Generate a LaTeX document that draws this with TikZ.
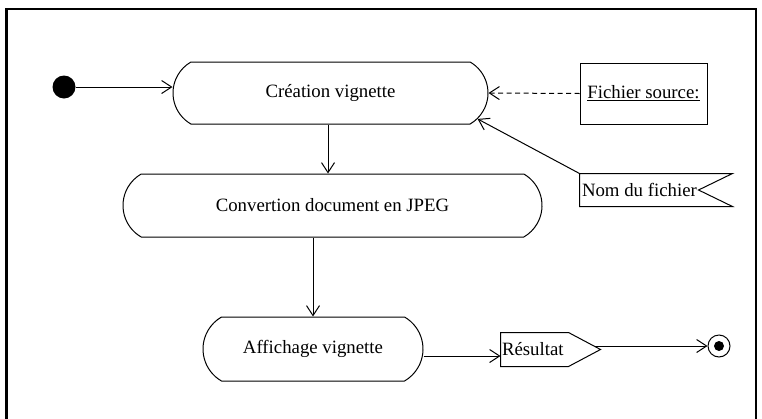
\documentclass[tikz,border=0pt]{standalone}
\usepackage{fontspec}
\setmainfont{Liberation Serif}
\usetikzlibrary{arrows.meta,shapes.misc}
\begin{document}
\begin{tikzpicture}[x=1pt,y=-1pt,
  font=\fontsize{18.8}{22}\selectfont,
  line width=1pt,
  arr/.style={-{Straight Barb[length=10pt,width=13pt]}},
  act/.style={rounded rectangle, rounded rectangle arc length=120, draw, inner sep=0pt},
  plain/.style={inner sep=2pt, align=left, anchor=west},
]
\useasboundingbox (0,0) rectangle (762,418);
\draw[line width=2.5pt] (6.5,425) -- (6.5,9) -- (756,9) -- (756,425);

% activities
\node[act, minimum width=315pt, minimum height=62pt] (cre) at (330.5,93) {Création vignette};
\node[act, minimum width=419pt, minimum height=63pt] (conv) at (332.5,205.5) {Convertion document en JPEG};
\node[act, minimum width=220pt, minimum height=64pt] (aff) at (313,349) {Affichage vignette};

% start / end
\node[circle, fill=black, minimum size=23pt, inner sep=0pt] (ini) at (64,87) {};
\node[circle, draw, minimum size=22pt, inner sep=0pt] (fin) at (719,346) {};
\node[circle, fill=black, minimum size=10pt, inner sep=0pt] (findot) at (fin.center) {};

% objects
\node[draw, minimum width=127pt, minimum height=61pt, inner sep=0pt] (fs) at (643.5,93.5) {\underline{Fichier source:}};
\node[minimum width=152pt, minimum height=32pt, inner sep=0pt] (nom) at (656,190) {};
\node[plain] (nomtxt) at (nom.west) {Nom du fichier};
\draw (nom.north west) -- (nom.north east) -- ([xshift=-34pt]nom.east) -- (nom.south east) -- (nom.south west) -- cycle;
\node[minimum width=99pt, minimum height=33pt, inner sep=0pt] (res) at (550.5,349.5) {};
\node[plain, inner sep=1pt] (restxt) at (res.west) {Résultat};
\draw (res.north west) -- ([xshift=-32pt]res.north east) -- (res.east) -- ([xshift=-32pt]res.south east) -- (res.south west) -- cycle;

% connectors
\draw[arr] (ini) -- (ini -| cre.west);
\draw[arr] ([xshift=-2.5pt]cre.south) -- ([xshift=-2.5pt]cre.south |- conv.north);
\draw[arr] (aff.north |- conv.south) -- (aff.north);
\draw[arr, dash pattern=on 5pt off 3.5pt] (fs.west) -- (cre.east);
\draw[arr] (nom.north west) -- (cre.-10.7);
\draw[arr] ([yshift=-7pt]aff.east) -- ([yshift=-7pt]aff.east -| res.west);
\draw[arr] ([xshift=-6pt]fin.west -| res.east) -- (fin.west);
\end{tikzpicture}
\end{document}
